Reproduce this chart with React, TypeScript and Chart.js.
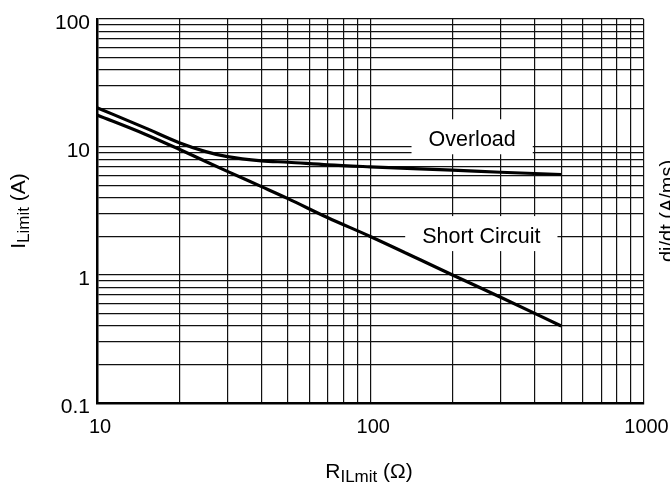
import React, { useEffect, useRef } from 'react';
import { Chart, registerables } from 'chart.js';

Chart.register(...registerables);

// ---- data ----
const resistanceOhm = [10, 15, 20, 25, 30, 40, 50, 70, 100, 200, 300, 500];
const overloadA = [20.3, 14.1, 10.8, 9.2, 8.4, 7.8, 7.6, 7.25, 7.0, 6.6, 6.35, 6.1];
const shortCircuitA = [17.8, 12.6, 9.6, 7.7, 6.45, 4.9, 3.95, 2.8, 2.0, 1.0, 0.67, 0.4];
const xTickLabels = [10, 100, 1000];
const yTickLabels = [0.1, 1, 10, 100];
const seriesNames = ['Overload', 'Short Circuit'];
const seriesLabelOhm = [236, 255];
const seriesLabelAmp = [11.7, 2.05];

const FONT = '"Liberation Sans", Arial, Helvetica, sans-serif';

function logGrid(min: number, max: number): number[] {
  const out: number[] = [];
  const e0 = Math.round(Math.log10(min));
  const e1 = Math.round(Math.log10(max));
  for (let e = e0; e < e1; e++) {
    for (let m = 1; m < 10; m++) out.push(Number((m * Math.pow(10, e)).toPrecision(6)));
  }
  out.push(max);
  return out;
}

function labelFrom(list: number[]) {
  return (v: number | string) => {
    const n = Number(v);
    const hit = list.find((t) => Math.abs(t - n) <= t * 1e-6);
    return hit === undefined ? '' : String(hit);
  };
}

type Piece = { text: string; size: number; dy: number };

function drawRich(ctx: CanvasRenderingContext2D, pieces: Piece[], x: number, y: number, rotate: number) {
  ctx.save();
  ctx.translate(x, y);
  ctx.rotate(rotate);
  ctx.textAlign = 'left';
  ctx.textBaseline = 'alphabetic';
  ctx.fillStyle = '#000';
  const widths = pieces.map((p) => {
    ctx.font = `${p.size}px ${FONT}`;
    return ctx.measureText(p.text).width;
  });
  const total = widths.reduce((a, b) => a + b, 0);
  let cx = -total / 2;
  pieces.forEach((p, i) => {
    ctx.font = `${p.size}px ${FONT}`;
    ctx.fillText(p.text, cx, p.dy);
    cx += widths[i];
  });
  ctx.restore();
}

const decorPlugin = {
  id: 'decor',
  afterDraw(chart: any) {
    const { ctx, scales } = chart;
    const xs = scales.x;
    const ys = scales.y;
    ctx.save();
    const size = 21.5;
    seriesNames.forEach((name, i) => {
      const cx = xs.getPixelForValue(seriesLabelOhm[i]);
      const cy = ys.getPixelForValue(seriesLabelAmp[i]);
      ctx.font = `${size}px ${FONT}`;
      const w = ctx.measureText(name).width;
      ctx.fillStyle = '#fff';
      ctx.fillRect(cx - w / 2 - 17, cy - 19, w + 34, 35);
      ctx.fillStyle = '#000';
      ctx.textAlign = 'center';
      ctx.textBaseline = 'alphabetic';
      ctx.fillText(name, cx, cy + 0.358 * size);
    });
    ctx.restore();

    drawRich(
      ctx,
      [
        { text: 'R', size: 21, dy: 0 },
        { text: 'ILmit', size: 17, dy: 3.5 },
        { text: ' (Ω)', size: 21, dy: 0 },
      ],
      369,
      478,
      0
    );
    drawRich(
      ctx,
      [
        { text: 'I', size: 21, dy: 0 },
        { text: 'Limit', size: 17, dy: 3.5 },
        { text: ' (A)', size: 21, dy: 0 },
      ],
      25,
      211,
      -Math.PI / 2
    );
    drawRich(ctx, [{ text: 'di/dt (A/ms)', size: 20, dy: 0 }], 674, 211, -Math.PI / 2);
  },
};

export default function App() {
  const ref = useRef<HTMLCanvasElement | null>(null);

  useEffect(() => {
    if (!ref.current) return;
    const gridColor = '#111';
    const chart = new Chart(ref.current, {
      type: 'line',
      data: {
        datasets: [
          {
            label: seriesNames[0],
            data: resistanceOhm.map((r, i) => ({ x: r, y: overloadA[i] })),
            borderColor: '#000',
            borderWidth: 3.2,
            pointRadius: 0,
            cubicInterpolationMode: 'monotone',
            fill: false,
          },
          {
            label: seriesNames[1],
            data: resistanceOhm.map((r, i) => ({ x: r, y: shortCircuitA[i] })),
            borderColor: '#000',
            borderWidth: 3.2,
            pointRadius: 0,
            cubicInterpolationMode: 'monotone',
            fill: false,
          },
        ],
      },
      options: {
        responsive: false,
        animation: false,
        devicePixelRatio: 1,
        layout: { padding: { top: 19, right: 26.5, left: 0, bottom: 0 } },
        plugins: { legend: { display: false }, tooltip: { enabled: false } },
        scales: {
          x: {
            type: 'logarithmic',
            position: 'bottom',
            min: 10,
            max: 1000,
            afterBuildTicks: (s: any) => {
              s.ticks = logGrid(10, 1000).map((v) => ({ value: v }));
            },
            afterFit: (s: any) => {
              s.height = 79;
              s.paddingLeft = 0;
              s.paddingRight = 0;
            },
            ticks: {
              autoSkip: false,
              maxRotation: 0,
              minRotation: 0,
              padding: 12,
              labelOffset: 3,
              color: '#000',
              font: { family: FONT, size: 20 },
              callback: labelFrom(xTickLabels),
            },
            grid: { color: gridColor, lineWidth: 1.2, drawTicks: false },
            border: { display: true, color: '#000', width: 2.5 },
          },
          y: {
            type: 'logarithmic',
            position: 'left',
            min: 0.1,
            max: 100,
            afterBuildTicks: (s: any) => {
              s.ticks = logGrid(0.1, 100).map((v) => ({ value: v }));
            },
            afterFit: (s: any) => {
              s.width = 97;
              s.paddingTop = 0;
              s.paddingBottom = 0;
            },
            ticks: {
              autoSkip: false,
              padding: 7,
              labelOffset: 4,
              color: '#000',
              font: { family: FONT, size: 21 },
              callback: labelFrom(yTickLabels),
            },
            grid: { color: gridColor, lineWidth: 1.2, drawTicks: false },
            border: { display: true, color: '#000', width: 2.5 },
          },
        },
      },
      plugins: [decorPlugin],
    } as any);
    return () => chart.destroy();
  }, []);

  return (
    <div style={{ position: 'fixed', left: 0, top: 0, width: 670, height: 482, background: '#fff' }}>
      <canvas ref={ref} width={670} height={482} style={{ display: 'block' }} />
    </div>
  );
}
